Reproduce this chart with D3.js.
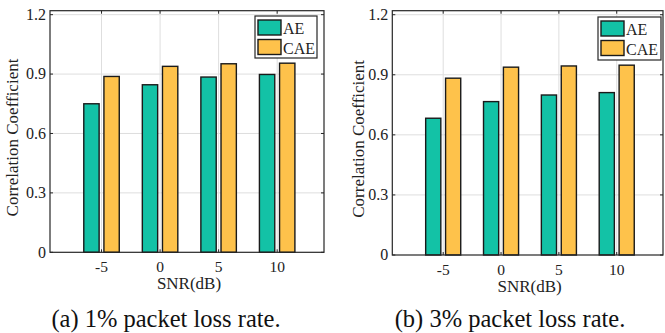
<!DOCTYPE html>
<html>
<head>
<meta charset="utf-8">
<script src="https://cdn.jsdelivr.net/npm/d3@7"></script>
<style>
  body { margin: 0; background: #fff; }
  svg { display: block; }
</style>
</head>
<body>
<div id="chart"></div>
<script>
// values
var snr = ["-5", "0", "5", "10"];
var aeLoss1 = [0.750, 0.846, 0.885, 0.898];
var caeLoss1 = [0.888, 0.939, 0.952, 0.955];
var aeLoss3 = [0.683, 0.766, 0.799, 0.811];
var caeLoss3 = [0.883, 0.938, 0.944, 0.948];
var yTicks = [0, 0.3, 0.6, 0.9, 1.2];
var seriesNames = ["AE", "CAE"];
var captions = ["(a) 1% packet loss rate.", "(b) 3% packet loss rate."];

var colors = ["#13c2a6", "#fec24b"];
var serif = "'Liberation Serif', 'Times New Roman', Tinos, 'DejaVu Serif', serif";

var W = 665, H = 333;
var svg = d3.select("#chart").append("svg")
    .attr("width", W)
    .attr("height", H)
    .style("font-family", serif);

// panel frames
var panels = [
    {left: 50, right: 324, top: 10.7, bottom: 252.3, ae: aeLoss1, cae: caeLoss1,
     legend: {x: 255, y: 16, w: 62, h: 42}, ylabX: 18, cap: 166},
    {left: 392.3, right: 663, top: 10.7, bottom: 255, ae: aeLoss3, cae: caeLoss3,
     legend: {x: 598, y: 17, w: 63, h: 43}, ylabX: 364, cap: 510}
];

panels.forEach(function(p, idx) {
    var g = svg.append("g");

    var x = d3.scaleLinear()
        .domain([0.12, 4.8])
        .range([p.left, p.right]);

    var y = d3.scaleLinear()
        .domain([0, 1.22])
        .range([p.bottom, p.top]);

    var pos = snr.map(function(d, i) { return i + 1; });

    // grid
    g.selectAll(".hgrid")
        .data(yTicks.filter(function(t) { return t > 0 && t < 1.21; }))
        .enter().append("line")
        .attr("x1", p.left).attr("x2", p.right)
        .attr("y1", function(d) { return y(d); })
        .attr("y2", function(d) { return y(d); })
        .style("stroke", "#dedede")
        .style("stroke-width", 1);

    g.selectAll(".vgrid")
        .data(pos)
        .enter().append("line")
        .attr("x1", function(d) { return x(d); })
        .attr("x2", function(d) { return x(d); })
        .attr("y1", p.top).attr("y2", p.bottom)
        .style("stroke", "#dedede")
        .style("stroke-width", 1);

    // bars
    var bw = 0.262, off = 0.172;
    var series = [p.ae, p.cae];
    series.forEach(function(vals, s) {
        g.selectAll(".bar" + s)
            .data(vals)
            .enter().append("rect")
            .attr("x", function(d, i) { return x(pos[i] + (s === 0 ? -off : off) - bw / 2); })
            .attr("width", x(bw) - x(0))
            .attr("y", function(d) { return y(d); })
            .attr("height", function(d) { return y(0) - y(d); })
            .style("fill", colors[s])
            .style("stroke", "#1a1a1a")
            .style("stroke-width", 1.4);
    });

    // frame
    g.append("rect")
        .attr("x", p.left).attr("y", p.top)
        .attr("width", p.right - p.left)
        .attr("height", p.bottom - p.top)
        .style("fill", "none")
        .style("stroke", "#262626")
        .style("stroke-width", 1.2);

    // inner ticks
    var tl = 3;
    yTicks.forEach(function(t) {
        g.append("line").attr("x1", p.left).attr("x2", p.left + tl)
            .attr("y1", y(t)).attr("y2", y(t)).style("stroke", "#262626");
        g.append("line").attr("x1", p.right).attr("x2", p.right - tl)
            .attr("y1", y(t)).attr("y2", y(t)).style("stroke", "#262626");
    });
    pos.forEach(function(t) {
        g.append("line").attr("x1", x(t)).attr("x2", x(t))
            .attr("y1", p.bottom).attr("y2", p.bottom - tl).style("stroke", "#262626");
        g.append("line").attr("x1", x(t)).attr("x2", x(t))
            .attr("y1", p.top).attr("y2", p.top + tl).style("stroke", "#262626");
    });

    // tick labels
    g.selectAll(".ylab")
        .data(yTicks)
        .enter().append("text")
        .attr("x", p.left - 4)
        .attr("y", function(d) { return y(d); })
        .attr("dy", "0.33em")
        .attr("text-anchor", "end")
        .style("font-size", "16px")
        .style("fill", "#222")
        .text(function(d) { return d === 0 ? "0" : d3.format(".1f")(d); });

    g.selectAll(".xlab")
        .data(snr)
        .enter().append("text")
        .attr("x", function(d, i) { return x(pos[i]); })
        .attr("y", p.bottom + 19.5)
        .attr("text-anchor", "middle")
        .style("font-size", "15.5px")
        .style("fill", "#222")
        .text(function(d) { return d; });

    // axis titles
    g.append("text")
        .attr("x", (p.left + p.right) / 2 + 2)
        .attr("y", p.bottom + 37)
        .attr("text-anchor", "middle")
        .style("font-size", "17px")
        .style("fill", "#222")
        .text("SNR(dB)");

    g.append("text")
        .attr("transform", "translate(" + p.ylabX + "," + ((p.top + p.bottom) / 2 + 6) + ") rotate(-90)")
        .attr("text-anchor", "middle")
        .style("font-size", "17px")
        .style("fill", "#222")
        .text("Correlation Coefficient");

    // legend
    var L = p.legend;
    var lg = g.append("g");
    lg.append("rect")
        .attr("x", L.x).attr("y", L.y).attr("width", L.w).attr("height", L.h)
        .style("fill", "#fff")
        .style("stroke", "#262626")
        .style("stroke-width", 1.2);
    seriesNames.forEach(function(n, s) {
        lg.append("rect")
            .attr("x", L.x + 3).attr("y", L.y + 4 + s * 19.5)
            .attr("width", 23).attr("height", 15)
            .style("fill", colors[s])
            .style("stroke", "#1a1a1a")
            .style("stroke-width", 1.4);
        lg.append("text")
            .attr("x", L.x + 28).attr("y", L.y + 18 + s * 19.5)
            .style("font-size", "16px")
            .style("fill", "#222")
            .text(n);
    });

    // caption
    svg.append("text")
        .attr("x", p.cap)
        .attr("y", 327)
        .attr("text-anchor", "middle")
        .style("font-size", "24.5px")
        .style("fill", "#111")
        .text(captions[idx]);
});
</script>
</body>
</html>
